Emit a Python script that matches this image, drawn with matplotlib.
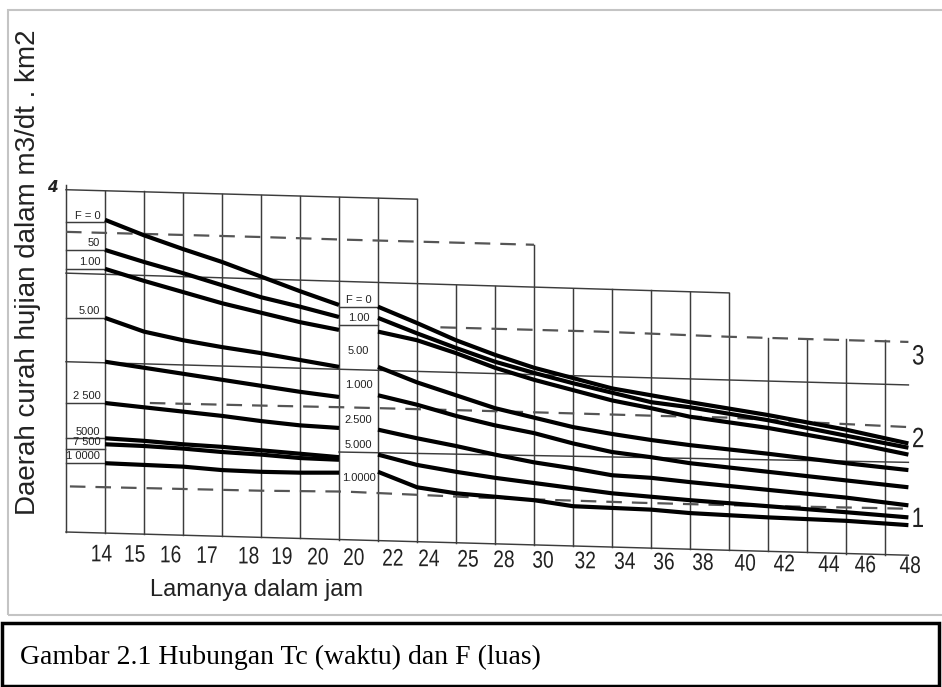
import numpy as np
import matplotlib.pyplot as plt
from matplotlib.font_manager import FontProperties
from matplotlib.patches import Rectangle, PathPatch
from matplotlib.textpath import TextPath
from matplotlib.transforms import Affine2D

# hour labels under the grid (the nomograph repeats "20")
hour_labels = ['14', '15', '16', '17', '18', '19', '20', '20', '22', '24', '25',
               '28', '30', '32', '34', '36', '38', '40', '42', '44', '46', '48']

# left panel, grid columns 0..6 (14 .. 20 jam)
left_x = [0, 1, 2, 3, 4, 5, 6]
left_F0 = [3.63, 3.45, 3.29, 3.14, 2.97, 2.80, 2.64]
left_F50 = [3.28, 3.14, 3.01, 2.87, 2.73, 2.62, 2.50]
left_F100 = [3.06, 2.92, 2.79, 2.66, 2.55, 2.44, 2.35]
left_F500 = [2.49, 2.33, 2.23, 2.15, 2.08, 2.00, 1.92]
left_F1000 = [1.98, 1.91, 1.84, 1.77, 1.70, 1.63, 1.57]
left_F2500 = [1.50, 1.45, 1.40, 1.35, 1.29, 1.24, 1.21]
left_F5000 = [1.09, 1.06, 1.02, 0.99, 0.95, 0.91, 0.87]
left_F7500 = [1.02, 1.00, 0.97, 0.93, 0.90, 0.86, 0.84]
left_F10000 = [0.80, 0.78, 0.76, 0.72, 0.70, 0.69, 0.69]

# right panel, grid columns 7..20 (20 .. 48 jam)
right_x = [7, 8, 9, 10, 11, 12, 13, 14, 15, 17, 19, 20.6]
right_F0 = [2.62, 2.43, 2.23, 2.06, 1.91, 1.79, 1.67, 1.59, 1.51, 1.36, 1.19, 1.03]
right_F50 = [2.49, 2.31, 2.14, 1.98, 1.85, 1.73, 1.62, 1.51, 1.45, 1.30, 1.12, 0.98]
right_F100 = [2.33, 2.23, 2.08, 1.91, 1.77, 1.65, 1.53, 1.44, 1.34, 1.21, 1.05, 0.90]
right_F500 = [1.92, 1.74, 1.59, 1.44, 1.33, 1.22, 1.14, 1.07, 1.01, 0.91, 0.80, 0.72]
right_F1000 = [1.59, 1.48, 1.35, 1.24, 1.15, 1.03, 0.93, 0.87, 0.80, 0.70, 0.60, 0.52]
right_F2500 = [1.19, 1.09, 1.00, 0.90, 0.81, 0.74, 0.66, 0.63, 0.58, 0.49, 0.40, 0.31]
right_F5000 = [0.90, 0.78, 0.70, 0.63, 0.57, 0.51, 0.45, 0.41, 0.37, 0.30, 0.23, 0.17]
right_F10000 = [0.70, 0.52, 0.45, 0.41, 0.37, 0.30, 0.28, 0.26, 0.22, 0.17, 0.13, 0.08]

# dashed reference lines 3, 2, 1
dash3a_x = [-1, 4, 6.1, 11]
dash3a_y = [3.49, 3.43, 3.40, 3.34]
dash3b_x = [8.6, 12.7, 16, 20.6]
dash3b_y = [2.38, 2.33, 2.27, 2.21]
dash2_x = [1.15, 4, 6.15, 9.6, 12.7, 14.2, 16, 18.3, 20.6]
dash2_y = [1.50, 1.47, 1.45, 1.41, 1.37, 1.35, 1.33, 1.27, 1.22]
dash1_x = [-0.9, 4, 6.15, 9.6, 13.7, 16.15, 19.6, 20.6]
dash1_y = [0.53, 0.48, 0.47, 0.40, 0.34, 0.31, 0.28, 0.27]

# grid: vertical lines (column, top) and sloping horizontal lines
vert_cols = list(range(-1, 21))
vert_tops = [4.03, 3.97, 3.96, 3.94, 3.93, 3.92, 3.91, 3.90, 3.88, 3.87, 2.875,
             2.86, 3.34, 2.83, 2.82, 2.81, 2.79, 2.78, 2.26, 2.25, 2.24, 2.23]
base_x = [-1, 20.6]
base_y = [0.0, -0.27]
horiz_lines = [(-1, 8, 3.98, 3.87), (-1, 16, 3.01, 2.78), (-1, 20.6, 1.98, 1.71),
               (6, 20.6, 0.93, 0.81), (-1, 20.6, 0.0, -0.27)]

left_tags = ['F = 0', '50', '1.00', '5.00', '2 500', '5000', '7 500', '1 0000']
left_tag_y = [3.60, 3.28, 3.06, 2.49, 1.50, 1.09, 0.97, 0.80]
mid_tags = ['F = 0', '1.00', '5.00', '1.000', '2.500', '5.000', '1.0000']
mid_tag_y = [2.62, 2.41, 2.03, 1.63, 1.22, 0.93, 0.55]
curve_tags = ['3', '2', '1']
curve_tag_y = [2.06, 1.10, 0.17]

fig = plt.figure(figsize=(9.42, 6.87), dpi=100)
ax = fig.add_axes([0, 0, 1, 1])
ax.set_xlim(-105 / 39, 837 / 39)
ax.set_ylim(-155 / 86, 532 / 86)
ax.axis('off')

sans = FontProperties(family='Liberation Sans')


def narrow_text(x, y, s, size_px, squeeze=0.8):
    # condensed glyphs (the scan uses a narrow typeface), centred on (x, y)
    xp, yp = ax.transData.transform((x, y))
    path = TextPath((0, 0), s, size=size_px, prop=sans)
    bb = path.get_extents()
    tr = Affine2D().scale(squeeze, 1).translate(xp - (bb.x0 + bb.x1) / 2 * squeeze,
                                                yp - (bb.y0 + bb.y1) / 2)
    fig.add_artist(PathPatch(path, transform=tr, facecolor='#222222',
                             edgecolor='none'))


grid_kw = dict(color='#3c3c3c', lw=1.05, zorder=1)
for c, top in zip(vert_cols, vert_tops):
    ax.plot([c, c], [np.interp(c, base_x, base_y), top], **grid_kw)
for x0, x1, y0, y1 in horiz_lines:
    ax.plot([x0, x1], [y0, y1], **grid_kw)
for y in left_tag_y:
    ax.plot([-1, 0], [y, y], **grid_kw)
for y in mid_tag_y[:2]:
    ax.plot([6, 7], [y, y], **grid_kw)

dash_kw = dict(color='#555555', lw=1.6, dashes=(7, 4.5), zorder=2)
ax.plot(dash3a_x, dash3a_y, **dash_kw)
ax.plot(dash3b_x, dash3b_y, **dash_kw)
ax.plot(dash2_x, dash2_y, **dash_kw)
ax.plot(dash1_x, dash1_y, **dash_kw)

curve_kw = dict(color='black', lw=3.0, solid_capstyle='butt', zorder=3)
for ys in [left_F0, left_F50, left_F100, left_F500, left_F1000,
           left_F2500, left_F5000, left_F7500, left_F10000]:
    ax.plot(left_x, ys, **curve_kw)
for ys in [right_F0, right_F50, right_F100, right_F500, right_F1000,
           right_F2500, right_F5000, right_F10000]:
    ax.plot(right_x, ys, **curve_kw)

for t, y in zip(left_tags, left_tag_y):
    ax.text(-0.12, y + 0.02, t, ha='right', va='bottom', fontsize=8,
            family='Liberation Sans', color='#222222')
for t, y in zip(mid_tags, mid_tag_y):
    ax.text(6.5, y + 0.02, t, ha='center', va='bottom', fontsize=8,
            family='Liberation Sans', color='#222222')
for t, y in zip(curve_tags, curve_tag_y):
    narrow_text(20.85, y, t, 28)

ax.text(-1.36, 4.01, '4', ha='center', va='center', fontsize=11,
        style='italic', weight='bold', color='#222222')

# hour labels along the (slightly tilted) bottom
tick_pos = [-0.08, 0.77, 1.69, 2.62, 3.69, 4.54, 5.46, 6.38, 7.38, 8.31, 9.31,
            10.23, 11.23, 12.31, 13.33, 14.33, 15.33, 16.41, 17.41, 18.56, 19.49, 20.64]
tick_y = np.interp(tick_pos, [-0.08, 20.64], [-0.245, -0.38])
for t, x, y in zip(hour_labels, tick_pos, tick_y):
    narrow_text(x, y, t, 24)

ax.text(1.15, -0.67, 'Lamanya dalam jam', ha='left', va='center', fontsize=17,
        family='Liberation Sans', color='#222222')
ax.text(-1.97, 3.02, 'Daerah curah hujian dalam m3/dt . km2', rotation=90,
        ha='center', va='center', fontsize=20, family='Liberation Sans',
        color='#222222')

# outer light frame and caption box
W, H = 942, 687
fig.add_artist(Rectangle((8 / W, 1 - 615 / H), 1, (615 - 10) / H,
                         transform=fig.transFigure, fill=False,
                         edgecolor='#c4c4c4', lw=1.5))
fig.add_artist(Rectangle((2 / W, 1 - 686 / H), 937 / W, 63 / H,
                         transform=fig.transFigure, facecolor='white',
                         edgecolor='black', lw=2.5))
fig.text(20 / W, 1 - 657 / H, 'Gambar 2.1 Hubungan Tc (waktu) dan F (luas)',
         ha='left', va='center', fontsize=20, family='Liberation Serif')

fig.savefig('out.png', dpi=100)
